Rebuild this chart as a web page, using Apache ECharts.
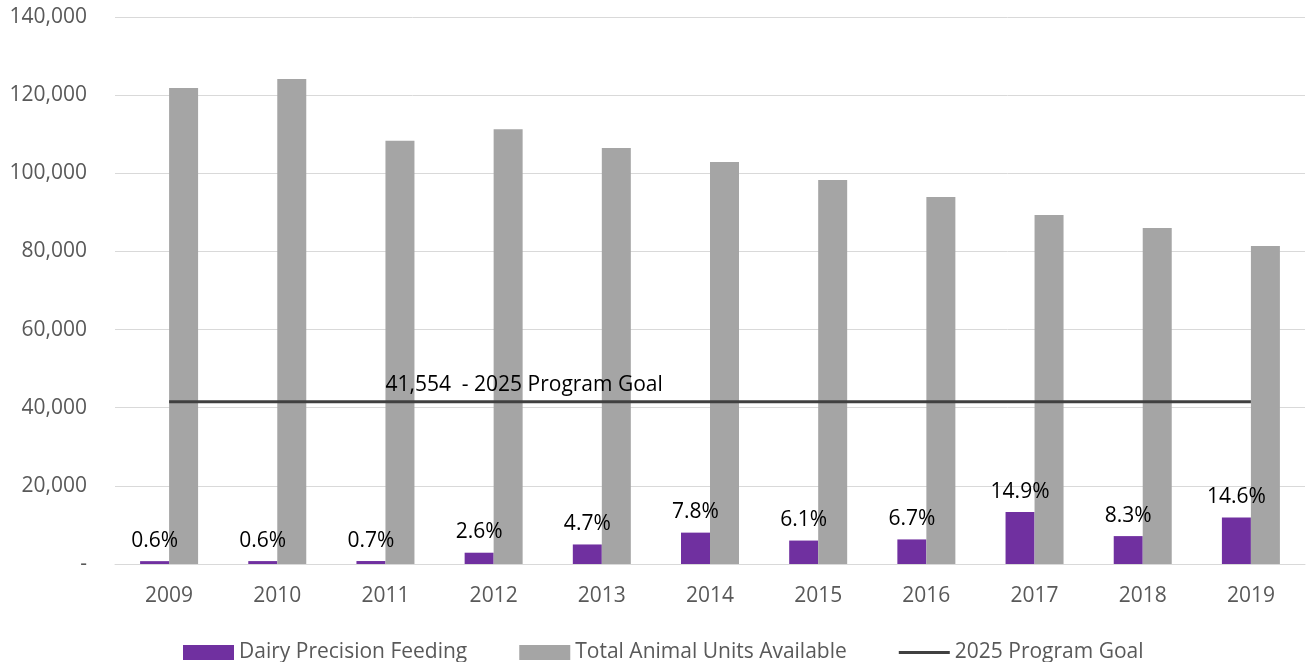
<!DOCTYPE html>
<html>
<head>
<meta charset="utf-8">
<script src="https://cdn.jsdelivr.net/npm/echarts@6/dist/echarts.min.js"></script>
<style>
  html, body { margin: 0; padding: 0; background: #fff; }
  #chart { width: 1306px; height: 662px; }
</style>
</head>
<body>
<div id="chart"></div>
<script>
const years = ['2009', '2010', '2011', '2012', '2013', '2014', '2015', '2016', '2017', '2018', '2019']
const dairyFeeding = [730, 745, 760, 2890, 5000, 8030, 6000, 6290, 13300, 7140, 11880]
const totalUnits = [121800, 124100, 108300, 111300, 106500, 102900, 98300, 93900, 89300, 86000, 81400]
const shareLabels = ['0.6%', '0.6%', '0.7%', '2.6%', '4.7%', '7.8%', '6.1%', '6.7%', '14.9%', '8.3%', '14.6%']
const programGoal = [41554, 41554, 41554, 41554, 41554, 41554, 41554, 41554, 41554, 41554, 41554]
const goalText = '41,554  - 2025 Program Goal'

const font = 'Open Sans'
// thin line icon for the goal legend entry (tiny dots keep the box 16 high)
const lineIcon = 'path://M0,0L0.01,0L0,0.01Z M0,6.5H54V9.5H0Z M0,16L0.01,16L0,15.99Z'

const chart = echarts.init(document.getElementById('chart'))

chart.setOption({
  animation: false,
  textStyle: { fontFamily: font },
  grid: { left: 115, right: 1, top: 17, bottom: 98 },
  legend: {
    bottom: -6,
    left: 178,
    itemGap: 52,
    itemWidth: 51,
    itemHeight: 15,
    symbolKeepAspect: false,
    textStyle: { fontSize: 21, color: '#595959', fontFamily: font },
    data: [
      { name: 'Dairy Precision Feeding', icon: 'rect' },
      { name: 'Total Animal Units Available', icon: 'rect' },
      { name: '2025 Program Goal', icon: lineIcon }
    ]
  },
  xAxis: {
    type: 'category',
    data: years,
    axisTick: { show: false },
    axisLine: { lineStyle: { color: '#d9d9d9', width: 1 } },
    axisLabel: { color: '#595959', fontSize: 21, margin: 22 }
  },
  yAxis: {
    type: 'value',
    min: 0,
    max: 140000,
    interval: 20000,
    axisLine: { show: false },
    axisTick: { show: false },
    splitLine: { lineStyle: { color: '#d9d9d9', width: 1 } },
    axisLabel: {
      color: '#595959',
      fontSize: 21,
      margin: 28,
      formatter: v => v === 0 ? '-' : v.toLocaleString('en-US')
    }
  },
  series: [
    {
      name: 'Dairy Precision Feeding',
      type: 'bar',
      data: dairyFeeding,
      barWidth: 29,
      barGap: '0%',
      itemStyle: { color: '#7030a0' },
      label: {
        show: true,
        position: 'top',
        distance: 10,
        color: '#000',
        fontSize: 21,
        formatter: p => shareLabels[p.dataIndex]
      }
    },
    {
      name: 'Total Animal Units Available',
      type: 'bar',
      data: totalUnits,
      barWidth: 29,
      barGap: '0%',
      itemStyle: { color: '#a5a5a5' }
    },
    {
      name: '2025 Program Goal',
      type: 'line',
      data: programGoal,
      symbol: 'circle',
      symbolSize: 0,
      showSymbol: true,
      lineStyle: { color: '#404040', width: 3 },
      itemStyle: { color: '#404040' },
      label: {
        show: true,
        position: 'top',
        align: 'left',
        distance: 6,
        color: '#000',
        fontSize: 21,
        formatter: p => p.dataIndex === 2 ? goalText : ''
      }
    }
  ]
})
</script>
</body>
</html>
